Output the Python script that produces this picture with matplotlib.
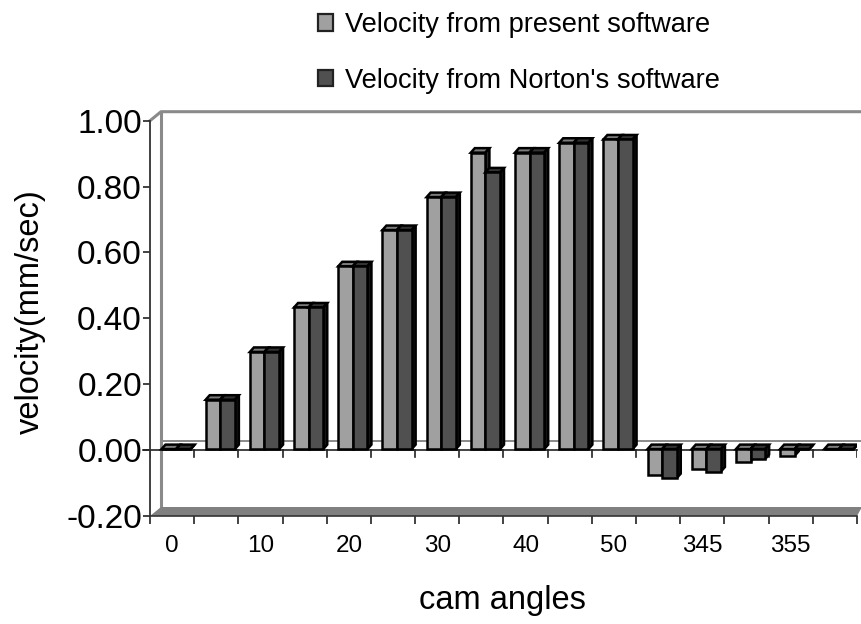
import matplotlib
matplotlib.use("Agg")
import matplotlib.pyplot as plt
from matplotlib.patches import Patch, Polygon

plt.rcParams['font.family'] = ['Liberation Sans', 'DejaVu Sans']

positions = list(range(16))
tick_labels = ['0', '10', '20', '30', '40', '50', '345', '355']
present = [0.0, 0.15, 0.295, 0.43, 0.555, 0.665, 0.765, 0.90, 0.90, 0.93, 0.94,
           -0.08, -0.06, -0.038, -0.02, 0.0]
norton = [0.0, 0.15, 0.295, 0.43, 0.555, 0.665, 0.765, 0.84, 0.90, 0.93, 0.94,
          -0.088, -0.068, -0.03, 0.0, 0.0]
yticks = [-0.20, 0.00, 0.20, 0.40, 0.60, 0.80, 1.00]
series_names = ['Velocity from present software', "Velocity from Norton's software"]

W, H = 862, 624
fig = plt.figure(figsize=(W / 100, H / 100), dpi=100)
L, R, T, B = 150, 857, 120.7, 516
ax = fig.add_axes([L / W, 1 - B / H, (R - L) / W, (B - T) / H])
ax.set_xlim(-0.5, 15.5)
ax.set_ylim(-0.2, 1.0)
ax.patch.set_alpha(0)

pxx = (15.5 + 0.5) / (R - L)
pxy = 1.2 / (B - T)

# walls and floor (pixel depth expressed in data units)
wx, wy = 11 * pxx, 9 * pxy
GRID = '#8a8a8a'
xl, xr = -0.5, 15.5
ax.add_patch(Polygon([(xl, -0.2), (xl + wx, -0.2 + wy), (xr + 5 * pxx, -0.2 + wy), (xr, -0.2)],
                     closed=True, facecolor='#808080', edgecolor='none', clip_on=False, zorder=1.5))
ax.plot([xl + wx] * 2, [-0.2 + wy, 1 + wy], color=GRID, lw=2.2, clip_on=False, zorder=1)
ax.plot([xl, xl + wx, xr + 5 * pxx], [1, 1 + wy, 1 + wy], color=GRID, lw=2.2, clip_on=False, zorder=1)
ax.plot([xl + wx, xr + 5 * pxx], [wy, wy], color=GRID, lw=1.4, clip_on=False, zorder=1)

# zero axis and its ticks
ax.plot([xl - 7 * pxx, xr], [0, 0], color='#222222', lw=1.2, clip_on=False, zorder=2)
for b in range(17):
    ax.plot([b - 0.5] * 2, [0, -7 * pxy], color='#222222', lw=1.2, zorder=2)

# 3D bars
bw = 14.6 * pxx
sx, sy = 4 * pxx, 1 * pxy   # shift of bars from the front plane
dx, dy = 4 * pxx, 4.5 * pxy  # bar depth
EDGE = '#000000'
LW = 1.8
faces = [('#a0a0a0', '#7c7c7c', '#2c2c2c'), ('#505050', '#333333', '#161616')]

def draw(vals, off, cols, z):
    front, top, side = cols
    lefts = [p + off + sx for p in positions]
    ax.bar(lefts, vals, width=bw, bottom=sy, align='edge',
           color=front, edgecolor=EDGE, lw=LW, zorder=z + 0.2)
    for x0, v in zip(lefts, vals):
        x1 = x0 + bw
        hi = max(v, 0) + sy
        lo = min(v, 0) + sy
        ax.fill([x0, x0 + dx, x1 + dx, x1], [hi, hi + dy, hi + dy, hi],
                facecolor=top, edgecolor=EDGE, lw=LW, zorder=z)
        ax.fill([x1, x1 + dx, x1 + dx, x1], [lo, lo + dy, hi + dy, hi],
                facecolor=side, edgecolor=EDGE, lw=LW, zorder=z)

draw(present, -bw, faces[0], 3)
draw(norton, 0, faces[1], 4)

# axes
for s in ['top', 'right']:
    ax.spines[s].set_visible(False)
ax.spines['left'].set_color('#333333')
ax.spines['left'].set_linewidth(1.3)
ax.spines['bottom'].set_color('#333333')
ax.spines['bottom'].set_linewidth(1.2)
ax.set_yticks(yticks)
ax.set_yticklabels([f'{v:.2f}' for v in yticks], fontsize=24)
ax.tick_params(axis='y', length=5, width=1.2, pad=0.8, color='#222222')
ax.set_xticks([b - 0.5 for b in range(17)])
ax.set_xticklabels([])
ax.set_xticks(positions[::2], labels=tick_labels, minor=True)
ax.tick_params(axis='x', which='major', length=5.5, width=1.2, color='#222222')
ax.tick_params(axis='x', which='minor', length=0, labelsize=17.5, pad=13.5)

fig.text(502 / W, 1 - 601 / H, 'cam angles', fontsize=23.5, ha='center', va='center')
fig.text(30 / W, 1 - 312 / H, 'velocity(mm/sec)', fontsize=23.5, rotation=90, ha='center', va='center')

handles = [Patch(facecolor='#a0a0a0', edgecolor='#222222', lw=1.6),
           Patch(facecolor='#505050', edgecolor='#222222', lw=1.6)]
fig.legend(handles, series_names, loc='upper left', bbox_to_anchor=(310 / W, 1 - 4 / H),
           frameon=False, fontsize=19.6, labelspacing=1.08, handlelength=0.55,
           handleheight=0.55, handletextpad=0.45, borderpad=0.3, borderaxespad=0)

fig.savefig('out.png', dpi=100)
